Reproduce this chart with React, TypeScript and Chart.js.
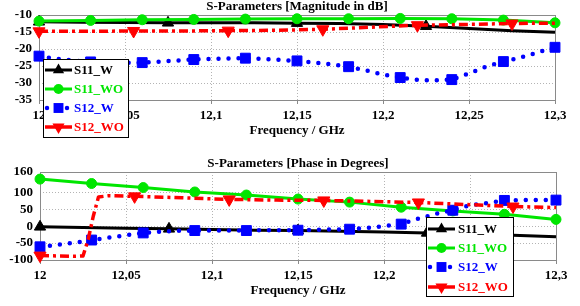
import React, { useEffect, useRef } from 'react';
import { Chart, registerables } from 'chart.js';

Chart.register(...registerables);

const FONT = '"Liberation Serif", "Times New Roman", serif';
const GREEN = '#00e600';
const BLUE = '#0000ff';
const RED = '#ff0000';
const BLACK = '#000000';

// ---------- shared axis ----------
const X_TICKS = [12.0, 12.05, 12.1, 12.15, 12.2, 12.25, 12.3];
const X_TITLE = 'Frequency / GHz';
const SERIES_NAMES = ['S11_W', 'S11_WO', 'S12_W', 'S12_WO'];

// marker positions (GHz)
const MARK_S11W = [12.0, 12.075, 12.15, 12.225];
const MARK_S11WO = [12.0, 12.03, 12.06, 12.09, 12.12, 12.15, 12.18, 12.21, 12.24, 12.27, 12.3];
const MARK_S12W = [12.0, 12.03, 12.06, 12.09, 12.12, 12.15, 12.18, 12.21, 12.24, 12.27, 12.3];
const MARK_S12WO = [12.0, 12.055, 12.11, 12.165, 12.22, 12.275];

// ---------- magnitude chart ----------
const MAG_TITLE = 'S-Parameters [Magnitude in dB]';
const MAG_Y_TICKS = [-35, -30, -25, -20, -15, -10];

const MAG_S11W_F = [12.0, 12.025, 12.05, 12.075, 12.1, 12.125, 12.15, 12.175, 12.2, 12.225, 12.25, 12.275, 12.3];
const MAG_S11W = [-12.0, -12.1, -12.2, -12.3, -12.3, -12.3, -12.4, -12.5, -12.8, -13.3, -14.0, -14.6, -15.1];

const MAG_S11WO_F = [12.0, 12.03, 12.06, 12.09, 12.12, 12.15, 12.18, 12.21, 12.24, 12.27, 12.3];
const MAG_S11WO = [-11.8, -11.6, -11.4, -11.3, -11.2, -11.1, -11.1, -11.0, -11.1, -11.5, -12.3];

const MAG_S12W_F = [12.0, 12.01, 12.02, 12.03, 12.04, 12.05, 12.06, 12.07, 12.08, 12.09, 12.1, 12.11, 12.12, 12.13, 12.14, 12.15, 12.16, 12.17, 12.18, 12.19, 12.2, 12.21, 12.22, 12.23, 12.24, 12.25, 12.26, 12.27, 12.28, 12.29, 12.3];
const MAG_S12W = [-22.1, -22.9, -23.4, -23.8, -24.0, -24.1, -24.0, -23.7, -23.4, -23.1, -22.9, -22.8, -22.7, -22.9, -23.2, -23.5, -24.0, -24.5, -25.2, -26.3, -27.5, -28.4, -29.1, -29.2, -29.0, -27.2, -25.2, -23.7, -22.5, -21.0, -19.5];

const MAG_S12WO_F = [12.0, 12.0275, 12.055, 12.0825, 12.11, 12.1375, 12.165, 12.1925, 12.22, 12.2475, 12.275, 12.3];
const MAG_S12WO = [-14.8, -14.8, -14.7, -14.7, -14.6, -14.5, -14.2, -13.6, -13.0, -12.8, -12.5, -12.4];

// ---------- phase chart ----------
const PH_TITLE = 'S-Parameters [Phase in Degrees]';
const PH_Y_TICKS = [-100, -50, 0, 50, 100, 160];

const PH_S11W_F = [12.0, 12.025, 12.05, 12.075, 12.1, 12.125, 12.15, 12.175, 12.2, 12.225, 12.25, 12.275, 12.3];
const PH_S11W = [-2, -4, -6, -8, -10, -12, -13, -15, -17, -20, -23, -27, -31];

const PH_S11WO_F = [12.0, 12.03, 12.06, 12.09, 12.12, 12.15, 12.18, 12.21, 12.24, 12.27, 12.3];
const PH_S11WO = [139, 126, 114, 101, 92, 80, 71, 56, 45, 35, 20];

const PH_S12W_F = [12.0, 12.01, 12.02, 12.03, 12.04, 12.05, 12.06, 12.07, 12.08, 12.09, 12.1, 12.11, 12.12, 12.13, 12.14, 12.15, 12.16, 12.17, 12.18, 12.19, 12.2, 12.21, 12.22, 12.23, 12.24, 12.25, 12.26, 12.27, 12.28, 12.29, 12.3];
const PH_S12W = [-61, -55, -49, -41, -34, -27, -20, -16, -14, -13, -13, -13, -13, -12, -12, -12, -11, -10, -9, -5, 0, 6, 22, 36, 47, 62, 68, 76, 77, 77, 77];

const PH_S12WO_F = [12.0, 12.01, 12.02, 12.025, 12.028, 12.031, 12.034, 12.04, 12.055, 12.0825, 12.11, 12.1375, 12.165, 12.1925, 12.22, 12.2475, 12.275, 12.3];
const PH_S12WO = [-87, -88, -89, -88, -40, 30, 86, 90, 88, 84, 79, 77, 76, 73, 70, 64, 58, 55];

// ---------- styles ----------
type Style = {
  color: string; width: number; dash: number[]; cap: CanvasLineCap;
  marker: 'triangle' | 'circle' | 'rect' | 'down'; radius: number;
};
const STYLES: Style[] = [
  { color: BLACK, width: 3, dash: [], cap: 'butt', marker: 'triangle', radius: 6.5 },
  { color: GREEN, width: 3, dash: [], cap: 'butt', marker: 'circle', radius: 5 },
  { color: BLUE, width: 4.5, dash: [0, 10], cap: 'round', marker: 'rect', radius: 7 },
  { color: RED, width: 3.5, dash: [9, 4, 3, 4], cap: 'butt', marker: 'down', radius: 7 },
];

const fmtX = (v: number) => (Math.round(v * 100) / 100).toString().replace('.', ',');

function makeDataset(i: number, freqs: number[], vals: number[], marks: number[]) {
  const s = STYLES[i];
  const radii = freqs.map((f) => (marks.some((m) => Math.abs(m - f) < 1e-6) ? s.radius : 0));
  return {
    label: SERIES_NAMES[i],
    data: freqs.map((f, k) => ({ x: f, y: vals[k] })),
    borderColor: s.color,
    backgroundColor: s.color,
    borderWidth: s.width,
    borderDash: s.dash,
    borderCapStyle: s.cap,
    borderJoinStyle: 'round',
    tension: 0,
    pointStyle: s.marker === 'down' ? 'triangle' : s.marker,
    pointRotation: s.marker === 'down' ? 180 : 0,
    pointRadius: radii,
    pointBorderWidth: 1,
    pointBorderColor: s.color,
    pointBackgroundColor: s.color,
    clip: false,
    order: 4 - i,
  };
}

function drawMarker(ctx: CanvasRenderingContext2D, s: Style, x: number, y: number) {
  const r = s.radius;
  ctx.save();
  ctx.setLineDash([]);
  ctx.fillStyle = s.color;
  ctx.beginPath();
  if (s.marker === 'circle') {
    ctx.arc(x, y, r, 0, Math.PI * 2);
  } else if (s.marker === 'rect') {
    const h = r * Math.SQRT1_2;
    ctx.rect(x - h, y - h, 2 * h, 2 * h);
  } else {
    const dir = s.marker === 'down' ? -1 : 1;
    const a = (2 * Math.PI) / 3;
    for (let k = 0; k < 3; k++) {
      const ang = k * a;
      const px = x + Math.sin(ang) * r;
      const py = y - dir * Math.cos(ang) * r;
      if (k === 0) ctx.moveTo(px, py); else ctx.lineTo(px, py);
    }
    ctx.closePath();
  }
  ctx.fill();
  ctx.restore();
}

type LegendBox = { x: number; y: number; w: number; h: number; rows: number[]; sx0: number; sx1: number; tx: number };

function makePlugin(title: string, titleY: number, yTicks: number[], legend: LegendBox) {
  return {
    id: 'decor',
    beforeDatasetsDraw(chart: any) {
      const { ctx, chartArea: a, scales } = chart;
      const x = scales.x, y = scales.y;
      ctx.save();
      ctx.lineWidth = 1;
      ctx.strokeStyle = '#b4b4b4';
      ctx.setLineDash([1, 2]);
      X_TICKS.forEach((v) => {
        const px = Math.round(x.getPixelForValue(v)) + 0.5;
        if (px > a.left + 2 && px < a.right - 2) {
          ctx.beginPath(); ctx.moveTo(px, a.top); ctx.lineTo(px, a.bottom); ctx.stroke();
        }
      });
      yTicks.forEach((v) => {
        const py = Math.round(y.getPixelForValue(v)) + 0.5;
        if (py > a.top + 2 && py < a.bottom - 2) {
          ctx.beginPath(); ctx.moveTo(a.left, py); ctx.lineTo(a.right, py); ctx.stroke();
        }
      });
      ctx.setLineDash([]);
      ctx.strokeStyle = '#8a8a8a';
      ctx.strokeRect(Math.round(a.left) + 0.5, Math.round(a.top) + 0.5, Math.round(a.right - a.left), Math.round(a.bottom - a.top));
      X_TICKS.forEach((v) => {
        const px = Math.round(x.getPixelForValue(v)) + 0.5;
        ctx.beginPath(); ctx.moveTo(px, a.bottom); ctx.lineTo(px, a.bottom + 4); ctx.stroke();
      });
      ctx.restore();
    },
    afterDraw(chart: any) {
      const { ctx, chartArea: a } = chart;
      const cx = (a.left + a.right) / 2;
      ctx.save();
      ctx.fillStyle = '#000';
      ctx.font = `bold 13px ${FONT}`;
      ctx.textAlign = 'center';
      ctx.textBaseline = 'middle';
      ctx.fillText(title, cx, titleY);
      ctx.fillText(X_TITLE, cx, a.bottom + 31);

      // legend
      const L = legend;
      ctx.fillStyle = '#fff';
      ctx.fillRect(L.x, L.y, L.w, L.h);
      ctx.strokeStyle = '#000';
      ctx.lineWidth = 1;
      ctx.strokeRect(L.x + 0.5, L.y + 0.5, L.w, L.h);
      STYLES.forEach((s, i) => {
        const ry = L.rows[i];
        const mx = (L.sx0 + L.sx1) / 2;
        ctx.save();
        ctx.strokeStyle = s.color;
        ctx.lineWidth = s.width;
        ctx.lineCap = s.cap;
        if (s.marker === 'rect') {
          ctx.setLineDash([0, 10]);
          ctx.beginPath(); ctx.moveTo(L.sx0 + 2, ry); ctx.lineTo(L.sx1, ry); ctx.stroke();
        } else {
          ctx.setLineDash([]);
          ctx.beginPath(); ctx.moveTo(L.sx0, ry); ctx.lineTo(L.sx1, ry); ctx.stroke();
        }
        ctx.restore();
        drawMarker(ctx, s, mx, ry);
        ctx.fillStyle = s.color;
        ctx.font = `bold 13px ${FONT}`;
        ctx.textAlign = 'left';
        ctx.textBaseline = 'middle';
        ctx.fillText(SERIES_NAMES[i], L.tx, ry + 1);
      });
      ctx.restore();
    },
  };
}

function makeConfig(opts: {
  datasets: any[]; yTicks: number[]; yMin: number; yMax: number;
  padTop: number; padRight: number; yWidth: number; xHeight: number;
  title: string; titleY: number; legend: LegendBox;
}) {
  const tickFont = { family: FONT, size: 13, weight: 'bold' as const };
  return {
    type: 'line' as const,
    data: { datasets: opts.datasets },
    options: {
      animation: false as const,
      responsive: false,
      events: [],
      layout: { padding: { left: 0, right: opts.padRight, top: opts.padTop, bottom: 0 } },
      plugins: { legend: { display: false }, title: { display: false }, tooltip: { enabled: false } },
      scales: {
        x: {
          type: 'linear' as const,
          min: 12,
          max: 12.3,
          afterBuildTicks: (s: any) => { s.ticks = X_TICKS.map((v) => ({ value: v })); },
          afterFit: (s: any) => { s.height = opts.xHeight; },
          grid: { display: false, drawTicks: false },
          border: { display: false },
          ticks: {
            autoSkip: false, maxRotation: 0, padding: 8, color: '#000', font: tickFont,
            callback: (v: any) => fmtX(Number(v)),
          },
        },
        y: {
          type: 'linear' as const,
          min: opts.yMin,
          max: opts.yMax,
          afterBuildTicks: (s: any) => { s.ticks = opts.yTicks.map((v) => ({ value: v })); },
          afterFit: (s: any) => { s.width = opts.yWidth; },
          grid: { display: false, drawTicks: false },
          border: { display: false },
          ticks: {
            autoSkip: false, padding: 7, color: '#000', font: tickFont,
            callback: (v: any) => String(v),
          },
        },
      },
    },
    plugins: [makePlugin(opts.title, opts.titleY, opts.yTicks, opts.legend)],
  };
}

export default function App() {
  const topRef = useRef<HTMLCanvasElement>(null);
  const botRef = useRef<HTMLCanvasElement>(null);

  useEffect(() => {
    const magSets = [
      makeDataset(0, MAG_S11W_F, MAG_S11W, MARK_S11W),
      makeDataset(1, MAG_S11WO_F, MAG_S11WO, MARK_S11WO),
      makeDataset(2, MAG_S12W_F, MAG_S12W, MARK_S12W),
      makeDataset(3, MAG_S12WO_F, MAG_S12WO, MARK_S12WO),
    ];
    const phSets = [
      makeDataset(0, PH_S11W_F, PH_S11W, MARK_S11W),
      makeDataset(1, PH_S11WO_F, PH_S11WO, MARK_S11WO),
      makeDataset(2, PH_S12W_F, PH_S12W, MARK_S12W),
      makeDataset(3, PH_S12WO_F, PH_S12WO, MARK_S12WO),
    ];
    const c1 = new Chart(topRef.current as HTMLCanvasElement, makeConfig({
      datasets: magSets, yTicks: MAG_Y_TICKS, yMin: -35, yMax: -10,
      padTop: 15, padRight: 25, yWidth: 39, xHeight: 50,
      title: MAG_TITLE, titleY: 7,
      legend: { x: 43, y: 59, w: 85, h: 78, rows: [70, 89, 108, 127], sx0: 45, sx1: 72, tx: 74 },
    }) as any);
    const c2 = new Chart(botRef.current as HTMLCanvasElement, makeConfig({
      datasets: phSets, yTicks: PH_Y_TICKS, yMin: -100, yMax: 160,
      padTop: 22, padRight: 24, yWidth: 40, xHeight: 46,
      title: PH_TITLE, titleY: 13.5,
      legend: { x: 426, y: 67, w: 87, h: 79, rows: [79, 98, 117, 137], sx0: 428, sx1: 455, tx: 458 },
    }) as any);
    return () => { c1.destroy(); c2.destroy(); };
  }, []);

  return (
    <div style={{ position: 'absolute', left: 0, top: 0, width: 580, height: 306, background: '#fff', overflow: 'hidden' }}>
      <canvas ref={topRef} width={580} height={150} style={{ position: 'absolute', left: 0, top: 0, width: 580, height: 150 }} />
      <canvas ref={botRef} width={580} height={156} style={{ position: 'absolute', left: 0, top: 150, width: 580, height: 156 }} />
    </div>
  );
}
